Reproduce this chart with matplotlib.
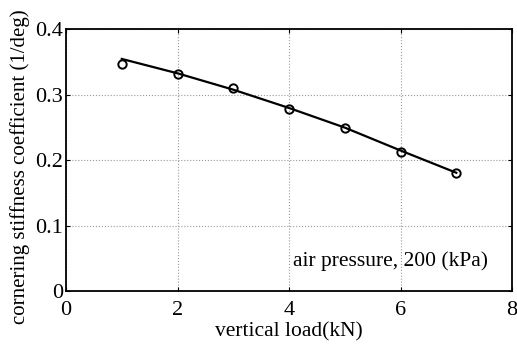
import numpy as np
import matplotlib
matplotlib.use("Agg")
import matplotlib.pyplot as plt

# measured points
load_kn = [1, 2, 3, 4, 5, 6, 7]
stiffness = [0.347, 0.332, 0.311, 0.279, 0.250, 0.212, 0.180]

# fitted curve
fit_load = [1, 2, 3, 4, 5, 6, 7]
fit_stiffness = [0.355, 0.333, 0.308, 0.280, 0.250, 0.215, 0.181]

xticks = [0, 2, 4, 6, 8]
yticks = [0, 0.1, 0.2, 0.3, 0.4]
yticklabels = ["0", "0.1", "0.2", "0.3", "0.4"]

plt.rcParams["font.family"] = ["Liberation Serif", "DejaVu Serif"]
plt.rcParams["font.size"] = 15.5

fig = plt.figure(figsize=(5.17, 3.47), dpi=100)
ax = fig.add_axes([0.1277, 0.161, 0.8627, 0.754])

ax.plot(fit_load, fit_stiffness, color="black", linewidth=1.6)
ax.plot(load_kn, stiffness, linestyle="none", marker="o", markersize=6,
        markerfacecolor="none", markeredgecolor="black", markeredgewidth=1.4)

ax.set_xlim(0, 8)
ax.set_ylim(0, 0.4)
ax.set_xticks(xticks)
ax.set_yticks(yticks)
ax.set_yticklabels(yticklabels)
ax.tick_params(direction="in", length=3, width=0.8, top=True, right=True,
               labelsize=16)
ax.tick_params(axis="x", pad=7)
ax.tick_params(axis="y", pad=2)
ax.grid(True, color="#999999", linestyle=":", linewidth=0.8)
for s in ax.spines.values():
    s.set_linewidth(1.3)

ax.set_xlabel("vertical load(kN)", fontsize=15.5, labelpad=2)
ax.set_ylabel("cornering stiffness coefficient (1/deg)", fontsize=15)
ax.yaxis.set_label_coords(-0.08, 0.475)
ax.text(4.08, 0.046, "air pressure, 200 (kPa)", fontsize=15.5, va="center", ha="left")

fig.savefig("out.png", dpi=100)
